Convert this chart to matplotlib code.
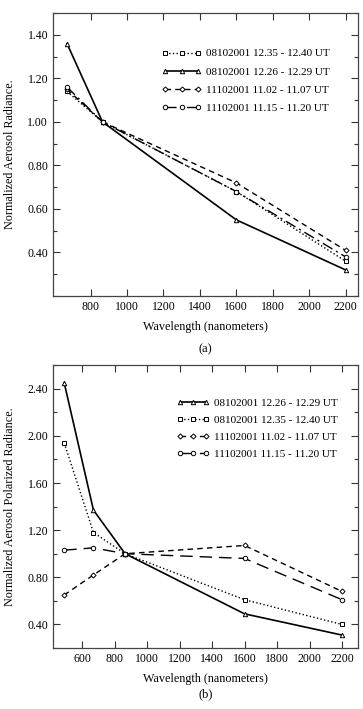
import matplotlib
matplotlib.use('Agg')
import matplotlib.pyplot as plt
from matplotlib.ticker import MultipleLocator, FixedLocator, FormatStrFormatter

plt.rcParams['font.family'] = ['Liberation Serif', 'DejaVu Serif']

# --- data: panel (a) normalized aerosol radiance ---
wl_a = [670, 865, 1600, 2200]
rad_sq = [1.14, 1.00, 0.68, 0.36]     # 08102001 12.35 - 12.40 UT
rad_tri = [1.36, 1.00, 0.55, 0.32]    # 08102001 12.26 - 12.29 UT
rad_dia = [1.15, 1.00, 0.72, 0.41]    # 11102001 11.02 - 11.07 UT
rad_circ = [1.16, 1.00, 0.68, 0.38]   # 11102001 11.15 - 11.20 UT

# --- data: panel (b) normalized aerosol polarized radiance ---
wl_b = [490, 670, 865, 1600, 2200]
pol_tri = [2.45, 1.37, 1.00, 0.49, 0.31]
pol_sq = [1.94, 1.18, 1.00, 0.61, 0.40]
pol_dia = [0.65, 0.82, 1.00, 1.07, 0.68]
pol_circ = [1.03, 1.05, 1.00, 0.96, 0.61]

lbl_sq = '08102001 12.35 - 12.40 UT'
lbl_tri = '08102001 12.26 - 12.29 UT'
lbl_dia = '11102001 11.02 - 11.07 UT'
lbl_circ = '11102001 11.15 - 11.20 UT'

# tick positions
xt_a = [800, 1000, 1200, 1400, 1600, 1800, 2000, 2200]
yt_a = [0.4, 0.6, 0.8, 1.0, 1.2, 1.4]
xt_b = [600, 800, 1000, 1200, 1400, 1600, 1800, 2000, 2200]
yt_b = [0.4, 0.8, 1.2, 1.6, 2.0, 2.4]

fig = plt.figure(figsize=(3.63, 7.09), dpi=100)
ax1 = fig.add_axes([0.146, 0.5825, 0.840, 0.399])
ax2 = fig.add_axes([0.146, 0.086, 0.840, 0.399])

mk = dict(markersize=3.2, markerfacecolor='white', markeredgewidth=0.7, color='black')


def style(ax, ylim, xlim, yt, ymin, xt):
    ax.set_xlim(*xlim)
    ax.set_ylim(*ylim)
    ax.yaxis.set_major_locator(FixedLocator(yt))
    ax.yaxis.set_minor_locator(MultipleLocator(ymin))
    ax.xaxis.set_major_locator(FixedLocator(xt))
    ax.yaxis.set_major_formatter(FormatStrFormatter('%.2f'))
    ax.tick_params(which='both', direction='in', top=True, right=True,
                   labelsize=8.5, width=0.8, color='#333333')
    ax.tick_params(which='major', length=5)
    ax.tick_params(which='minor', length=3)
    for s in ax.spines.values():
        s.set_linewidth(0.9)
        s.set_color('#444444')
    ax.set_xlabel('Wavelength (nanometers)', fontsize=8.7, labelpad=6)


# panel (a)
ax1.plot(wl_a, rad_sq, linestyle=':', marker='s', linewidth=1.0, label=lbl_sq, **mk)
ax1.plot(wl_a, rad_tri, linestyle='-', marker='^', linewidth=1.2, label=lbl_tri, **mk)
ax1.plot(wl_a, rad_dia, linestyle=(0, (4, 3)), marker='D', linewidth=1.0, label=lbl_dia,
         **{**mk, 'markersize': 2.6})
ax1.plot(wl_a, rad_circ, linestyle=(0, (8, 3, 1.5, 3)), marker='o', linewidth=1.0,
         label=lbl_circ, **mk)
style(ax1, (0.2, 1.5), (593, 2268), yt_a, 0.1, xt_a)
ax1.set_ylabel('Normalized Aerosol Radiance.', fontsize=8.7, labelpad=8)
ax1.legend(loc='upper right', bbox_to_anchor=(0.922, 0.89), frameon=False, fontsize=8,
           handlelength=3.6, handletextpad=0.4, labelspacing=0.75, borderaxespad=0,
           numpoints=3)
ax1.text(0.5, -0.19, '(a)', transform=ax1.transAxes, ha='center', va='center', fontsize=9)

# panel (b)
ax2.plot(wl_b, pol_tri, linestyle='-', marker='^', linewidth=1.2, label=lbl_tri, **mk)
ax2.plot(wl_b, pol_sq, linestyle=':', marker='s', linewidth=1.0, label=lbl_sq, **mk)
ax2.plot(wl_b, pol_dia, linestyle=(0, (4, 3)), marker='D', linewidth=1.0, label=lbl_dia,
         **{**mk, 'markersize': 2.6})
ax2.plot(wl_b, pol_circ, linestyle=(0, (9, 5)), marker='o', linewidth=1.0, label=lbl_circ, **mk)
style(ax2, (0.2, 2.6), (421, 2298), yt_b, 0.2, xt_b)
ax2.set_ylabel('Normalized Aerosol Polarized Radiance.', fontsize=8.7, labelpad=8)
ax2.legend(loc='upper right', bbox_to_anchor=(0.948, 0.90), frameon=False, fontsize=8,
           handlelength=3.0, handletextpad=0.4, labelspacing=0.65, borderaxespad=0,
           numpoints=3)
ax2.text(0.5, -0.165, '(b)', transform=ax2.transAxes, ha='center', va='center', fontsize=9)

fig.savefig('out.png', dpi=100)
